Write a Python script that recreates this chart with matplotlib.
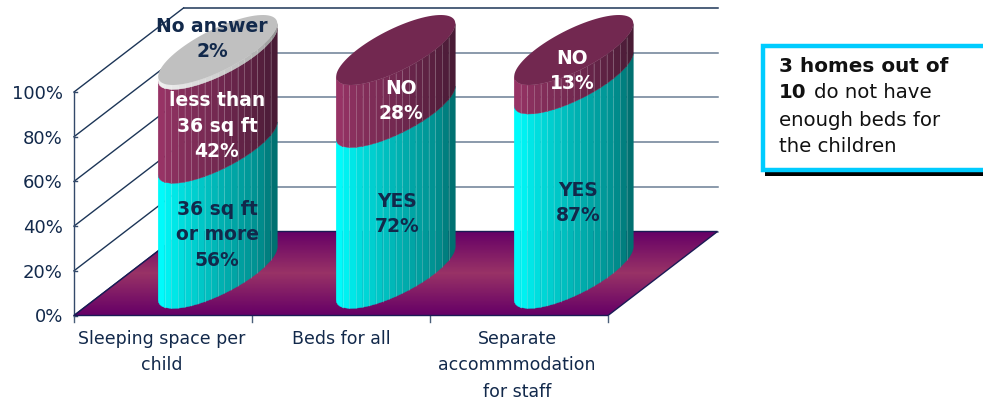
import numpy as np
import matplotlib
matplotlib.use("Agg")
import matplotlib.pyplot as plt
from matplotlib.colors import LinearSegmentedColormap, to_rgb
from matplotlib.patches import Polygon, Rectangle

# Chart content
categories = ["Sleeping space per\nchild", "Beds for all", "Separate\naccommmodation\nfor staff"]
lower_values = [56, 72, 87]
upper_values = [42, 28, 13]
no_answer_values = [2, 0, 0]
lower_names = ["36 sq ft\nor more", "YES", "YES"]
upper_names = ["less than\n36 sq ft", "NO", "NO"]
y_ticks = [0, 20, 40, 60, 80, 100]

NAVY = "#12294b"
FONT = "DejaVu Sans"

# Frame of the pseudo-3D plot, in figure pixels
X0, X1, Y0 = 74.0, 608.0, 316.5
H100 = 223.5
DEPTH_X, DEPTH_Y = 109.5, -84.0
R_X, R_DX, R_DY = 39.0, 45.0, -35.0

fig = plt.figure(figsize=(9.83, 4.02), dpi=100)
ax = fig.add_axes([0, 0, 1, 1])
ax.set_xlim(0, 983)
ax.set_ylim(402, 0)
ax.axis("off")


def val_y(v):
    return Y0 - H100 * v / 100.0


# Side wall and back wall gridlines
for v in y_ticks:
    y = val_y(v)
    ax.plot([X0, X0 + DEPTH_X], [y, y + DEPTH_Y], color="#1c3557", lw=1.0, zorder=1)
    ax.plot([X0 + DEPTH_X, X1 + DEPTH_X], [y + DEPTH_Y] * 2,
            color="#1c3557" if v == 100 else "#6b7f95", lw=1.1, zorder=1)
    ax.plot([X0, X0 + 3], [y, y], color="#33496a", lw=1.0, zorder=2)
    ax.text(63, y + 1, f"{v}%", ha="right", va="center", fontsize=13, color=NAVY,
            family=FONT, zorder=5)
ax.plot([X0, X0], [val_y(0), val_y(100)], color="#33496a", lw=1.0, zorder=2)

# Floor with its vertical gradient
floor_xy = [(X0, Y0), (X1, Y0), (X1 + DEPTH_X, Y0 + DEPTH_Y), (X0 + DEPTH_X, Y0 + DEPTH_Y)]
floor_cmap = LinearSegmentedColormap.from_list("floor", ["#660066", "#993366", "#660066"])
grad = np.linspace(0, 1, 85).reshape(-1, 1)
img = ax.imshow(grad, cmap=floor_cmap, aspect="auto", zorder=2, interpolation="bilinear",
                extent=(X0, X1 + DEPTH_X, Y0, Y0 + DEPTH_Y), origin="upper")
ax.set_xlim(0, 983)
ax.set_ylim(402, 0)
clip = Polygon(floor_xy, closed=True, transform=ax.transData, fc="none", ec="none")
ax.add_patch(clip)
img.set_clip_path(clip)
ax.add_patch(Polygon(floor_xy, closed=True, fc="none", ec="#1a1a55", lw=1.0, zorder=2.5))

# Category axis ticks and labels
cat_w = (X1 - X0) / len(categories)
for i in range(len(categories) + 1):
    x = X0 + i * cat_w
    ax.plot([x, x], [Y0, Y0 + 6], color="#4a5f7a", lw=1.0, zorder=2)
for i, name in enumerate(categories):
    x = X0 + (i + 0.5) * cat_w - (1 if i < 2 else 0) + (1 if i == 1 else 0) - (2 if i == 2 else 0)
    ax.text(x, 330, name, ha="center", va="top", fontsize=12.5, color=NAVY,
            family=FONT, linespacing=1.6, zorder=5)

TEAL = ["#00ffff", "#00e0e0", "#00b4b4", "#008e8e", "#006c6c"]
MAROON = ["#993366", "#862f5c", "#722850", "#561f3e", "#471a34"]
GREY = ["#f0f0f0", "#e4e4e4", "#d0d0d0", "#b0b0b0", "#909090"]
SHADE_POS = [0, 0.18, 0.5, 0.85, 1]


def shade(stops, u):
    rgb = np.array([to_rgb(c) for c in stops])
    return tuple(np.interp(u, SHADE_POS, rgb[:, k]) for k in range(3))


def rim(cx, cy, t):
    return cx + R_X * np.cos(t) + R_DX * np.sin(t), cy + R_DY * np.sin(t)


T_LEFT = np.arctan2(-R_DX, -R_X)
FACETS = 18


def draw_band(cx, base_y, v_from, v_to, stops, z):
    # Facets of near-even on-screen width around the front of the cylinder
    even = np.linspace(0, 1, FACETS + 1)
    ts = T_LEFT + np.arccos(1 - 2 * even)
    half = np.hypot(R_X, R_DX)
    dy_from = H100 * v_from / 100.0
    dy_to = H100 * v_to / 100.0
    for k, (a, b) in enumerate(zip(ts[:-1], ts[1:])):
        # Extra corner points keep the facets at the silhouette rounded
        seg = np.linspace(a, b, 5 if k in (0, FACETS - 1) else 2)
        xs, ys = rim(cx, base_y, seg)
        u = (xs.mean() - (cx - half)) / (2 * half)
        col = shade(stops, u)
        pts = list(zip(xs, ys - dy_from)) + list(zip(xs[::-1], ys[::-1] - dy_to))
        ax.add_patch(Polygon(pts, closed=True, fc=col, ec=col, lw=0.3, zorder=z))
        if k < FACETS - 1:
            ax.plot([xs[-1]] * 2, [ys[-1] - dy_from, ys[-1] - dy_to], color="white",
                    alpha=0.2, lw=0.7, zorder=z + 0.1, solid_capstyle="butt")


# Stacked cylinders
for i in range(len(categories)):
    cx = X0 + (i + 0.5) * cat_w + DEPTH_X / 2
    base_y = Y0 + DEPTH_Y / 2
    low, up, na = lower_values[i], upper_values[i], no_answer_values[i]
    draw_band(cx, base_y, 0, low, TEAL, 3)
    draw_band(cx, base_y, low, low + up, MAROON, 3.2)
    if na:
        draw_band(cx, base_y, low + up, low + up + na, GREY, 3.4)
    tt = np.linspace(0, 2 * np.pi, 90)
    ex, ey = rim(cx, base_y, tt)
    top_y = ey - H100 * (low + up + na) / 100.0
    ax.add_patch(Polygon(np.column_stack([ex, top_y]), closed=True,
                         fc="#c0c0c0" if na else "#722850", ec="none", zorder=3.6))

# Value labels on the cylinders
BOLD = dict(ha="center", va="center", fontsize=13.5, fontweight="bold", family=FONT,
            linespacing=1.42, zorder=6)
lower_centres = [(217, 235), (397, 214), (578, 203)]
upper_centres = [(217, 126), (401, 101), (572, 71)]
for i in range(len(categories)):
    ax.text(*lower_centres[i], f"{lower_names[i]}\n{lower_values[i]}%", color=NAVY, **BOLD)
    ax.text(*upper_centres[i], f"{upper_names[i]}\n{upper_values[i]}%", color="white", **BOLD)
ax.text(212, 39, f"No answer\n{no_answer_values[0]}%", color=NAVY, **BOLD)

# Call-out box, open towards the right edge
ax.add_patch(Rectangle((765, 173), 230, 4, fc="black", ec="none", zorder=1))
ax.add_patch(Rectangle((763, 47), 240, 124, fc="white", ec="#00ccff", lw=3.2, zorder=2))
TXT = dict(ha="left", va="center", fontsize=14.2, color="#111111", family=FONT, zorder=3)
ax.text(779, 66, "3 homes out of", fontweight="bold", fontsize=14.2 * 169 / 167,
        **{k: w for k, w in TXT.items() if k != "fontsize"})
first = ax.text(779, 93, "10", fontweight="bold", **TXT)
ax.annotate("do not have", xy=(1, 0.5), xycoords=first, xytext=(5, 0),
            textcoords="offset points", **TXT)
ax.text(779, 120, "enough beds for", **TXT)
ax.text(779, 147, "the children", **TXT)

fig.savefig("out.png", dpi=100, facecolor="white")
